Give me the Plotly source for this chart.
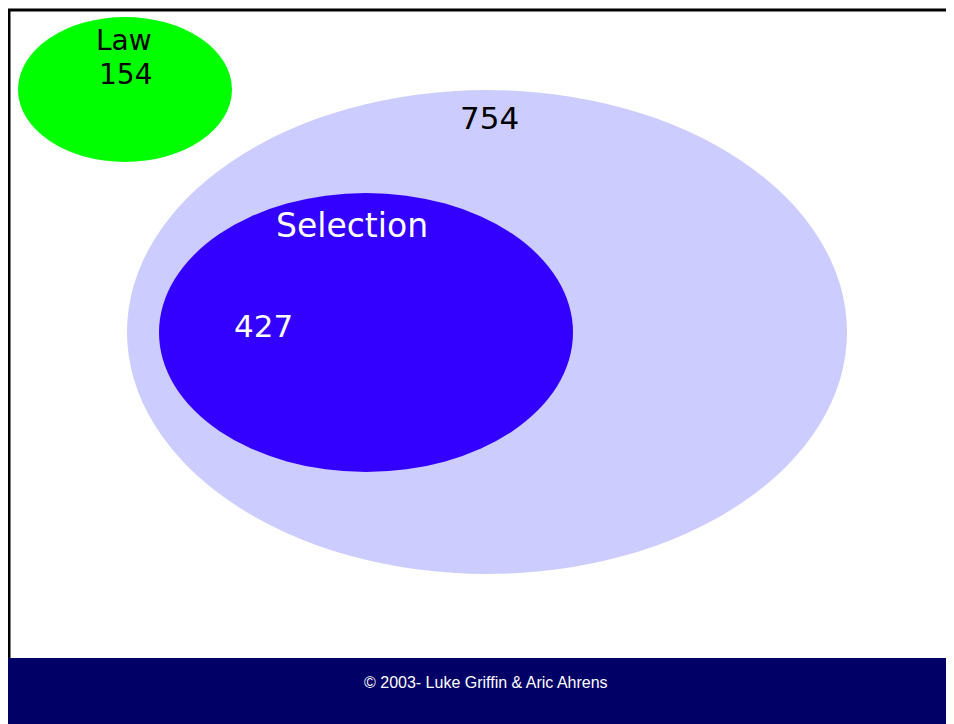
import plotly.graph_objects as go

# set labels and counts
set_names = ['Law', '', 'Selection']
set_counts = [154, 754, 427]
footer_text = '© 2003- Luke Griffin & Aric Ahrens'

W, H = 954, 724
OFF = 8  # the page body adds an 8px margin, so the figure starts at (8, 8)

fig = go.Figure()
# invisible trace so axes exist
fig.add_trace(go.Scatter(x=[OFF, W], y=[OFF, H], mode='markers', marker=dict(opacity=0),
                         hoverinfo='skip', showlegend=False))

# ellipses: (x0, y0, x1, y1, fill)
ellipses = [
    (127, 90, 847, 574, '#ccccff'),
    (159, 193, 573, 472, '#3300ff'),
    (18, 17, 232, 162, '#00ff00'),
]
shapes = []
for x0, y0, x1, y1, c in ellipses:
    shapes.append(dict(type='circle', xref='x', yref='y', x0=x0, y0=y0, x1=x1, y1=y1,
                       fillcolor=c, line=dict(width=0), layer='below'))

# slide frame and footer band
shapes.append(dict(type='rect', xref='x', yref='y', x0=5, y0=658, x1=W, y1=H,
                   fillcolor='#000066', line=dict(width=0)))
shapes.append(dict(type='line', xref='x', yref='y', x0=8, y0=10, x1=W, y1=10,
                   line=dict(color='black', width=3)))
shapes.append(dict(type='line', xref='x', yref='y', x0=9, y0=10, x1=9, y1=658,
                   line=dict(color='black', width=3)))

font = 'DejaVu Sans, sans-serif'
annotations = [
    dict(x=124, y=40, text=set_names[0], font=dict(size=28, color='black', family=font)),
    dict(x=125, y=74, text=str(set_counts[0]), font=dict(size=28, color='black', family=font)),
    dict(x=489, y=118, text=str(set_counts[1]), font=dict(size=31, color='black', family=font)),
    dict(x=352, y=225, text=set_names[2], font=dict(size=33, color='white', family=font)),
    dict(x=263, y=326, text=str(set_counts[2]), font=dict(size=31, color='white', family=font)),
    dict(x=486, y=682, text=footer_text,
         font=dict(size=16, color='white', family='Liberation Sans, Arial, sans-serif')),
]
for a in annotations:
    a.update(xref='x', yref='y', showarrow=False, xanchor='center', yanchor='middle')

fig.update_layout(
    width=W - OFF, height=H - OFF, margin=dict(l=0, r=0, t=0, b=0),
    paper_bgcolor='white', plot_bgcolor='white',
    xaxis=dict(range=[OFF, W], visible=False, fixedrange=True),
    yaxis=dict(range=[H, OFF], visible=False, fixedrange=True),
    shapes=shapes, annotations=annotations, showlegend=False,
)

fig.write_html('out.html')
